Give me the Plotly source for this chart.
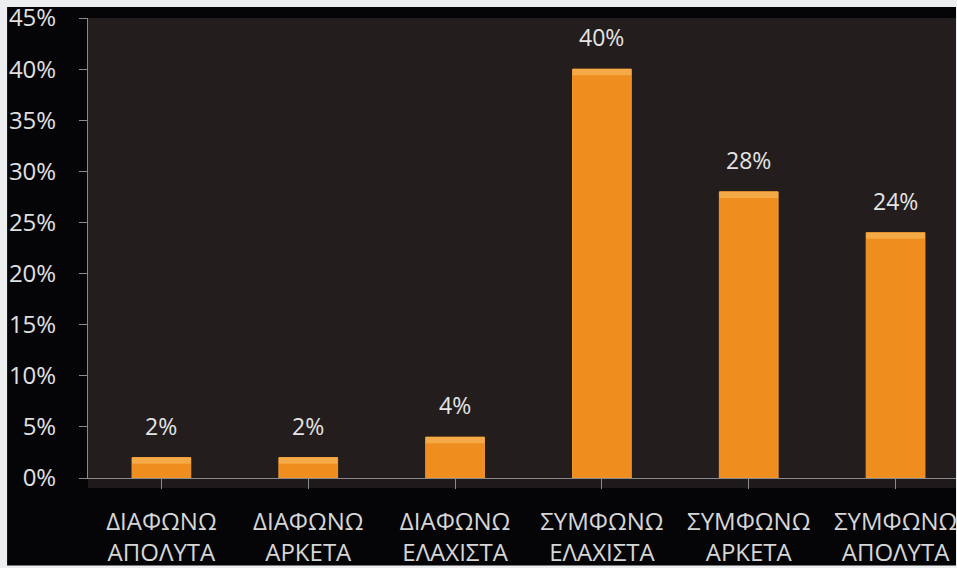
import plotly.graph_objects as go

categories = ["ΔΙΑΦΩΝΩ<br>ΑΠΟΛΥΤΑ", "ΔΙΑΦΩΝΩ<br>ΑΡΚΕΤΑ", "ΔΙΑΦΩΝΩ<br>ΕΛΑΧΙΣΤΑ",
              "ΣΥΜΦΩΝΩ<br>ΕΛΑΧΙΣΤΑ", "ΣΥΜΦΩΝΩ<br>ΑΡΚΕΤΑ", "ΣΥΜΦΩΝΩ<br>ΑΠΟΛΥΤΑ"]
values = [2, 2, 4, 40, 28, 24]
value_labels = ["2%", "2%", "4%", "40%", "28%", "24%"]
y_ticks = [0, 5, 10, 15, 20, 25, 30, 35, 40, 45]
y_ticklabels = ["0%", "5%", "10%", "15%", "20%", "25%", "30%", "35%", "40%", "45%"]

W, H = 957, 568
L, R, T, B = 88, 0, 18, 88
pw, ph = W - L - R, H - T - B

def px(x):
    return (x - L) / pw

def py(y):
    return (H - B - y) / ph

xs = list(range(len(categories)))
fig = go.Figure()
fig.add_trace(go.Bar(
    x=xs, y=values, width=0.4,
    marker=dict(color="#ef8d1f", line=dict(color="#f29a30", width=1)),
    hoverinfo="skip",
))
# bevel highlight along the top of each bar
bevel = 0.6
fig.add_trace(go.Bar(
    x=xs, y=[bevel] * len(values), base=[v - bevel for v in values], width=0.4,
    marker=dict(color="#f4aa46", line_width=0),
    hoverinfo="skip",
))

annotations = [
    dict(x=x, y=v, xref="x", yref="y", text=t, showarrow=False,
         yanchor="middle", yshift=32,
         font=dict(family="Open Sans", size=23, color="#e4e4e4"))
    for x, v, t in zip(xs, values, value_labels)
]

shapes = [
    # black frame over the light page, leaving a thin light border top and left
    dict(type="rect", xref="paper", yref="paper", x0=px(7), x1=px(W), y0=py(H), y1=py(7),
         fillcolor="#050507", line_width=0, layer="below"),
    # plot area fill (dark brown)
    dict(type="rect", xref="paper", yref="paper", x0=0, x1=1, y0=0, y1=1,
         fillcolor="#231d1e", line_width=0, layer="below"),
    # dark strip under the x axis
    dict(type="rect", xref="paper", yref="paper", x0=0, x1=1, y0=py(490), y1=0,
         fillcolor="#1e1a1b", line_width=0, layer="below"),
]

fig.update_layout(
    width=W, height=H,
    margin=dict(l=L, r=R, t=T, b=B, pad=0),
    paper_bgcolor="#eceef0",
    plot_bgcolor="#231d1e",
    showlegend=False,
    barmode="overlay",
    shapes=shapes,
    annotations=annotations,
    font=dict(family="Open Sans", color="#dcdcdc"),
    xaxis=dict(
        tickmode="array", tickvals=xs, ticktext=categories,
        range=[-0.5, 5.5 - 13 / 147],
        showline=True, linecolor="#8a8a8a", linewidth=1,
        ticks="outside", ticklen=10, tickcolor="#8a8a8a", tickson="boundaries",
        showgrid=False, zeroline=False,
        tickfont=dict(family="Open Sans", size=24, color="#d6d6d6"),
        ticklabelstandoff=12, ticklabeloverflow="allow",
    ),
    yaxis=dict(
        tickmode="array", tickvals=y_ticks, ticktext=y_ticklabels,
        range=[0, 45],
        showline=True, linecolor="#8a8a8a", linewidth=1,
        ticks="outside", ticklen=8, tickcolor="#8a8a8a",
        showgrid=False, zeroline=False,
        tickfont=dict(family="Open Sans", size=24, color="#e0e0e0"),
        ticklabelstandoff=18, ticklabeloverflow="allow",
    ),
)

fig.write_html(
    "out.html",
    config={"displayModeBar": False},
    post_script="document.body.style.margin='0';document.body.style.overflow='hidden';",
)
